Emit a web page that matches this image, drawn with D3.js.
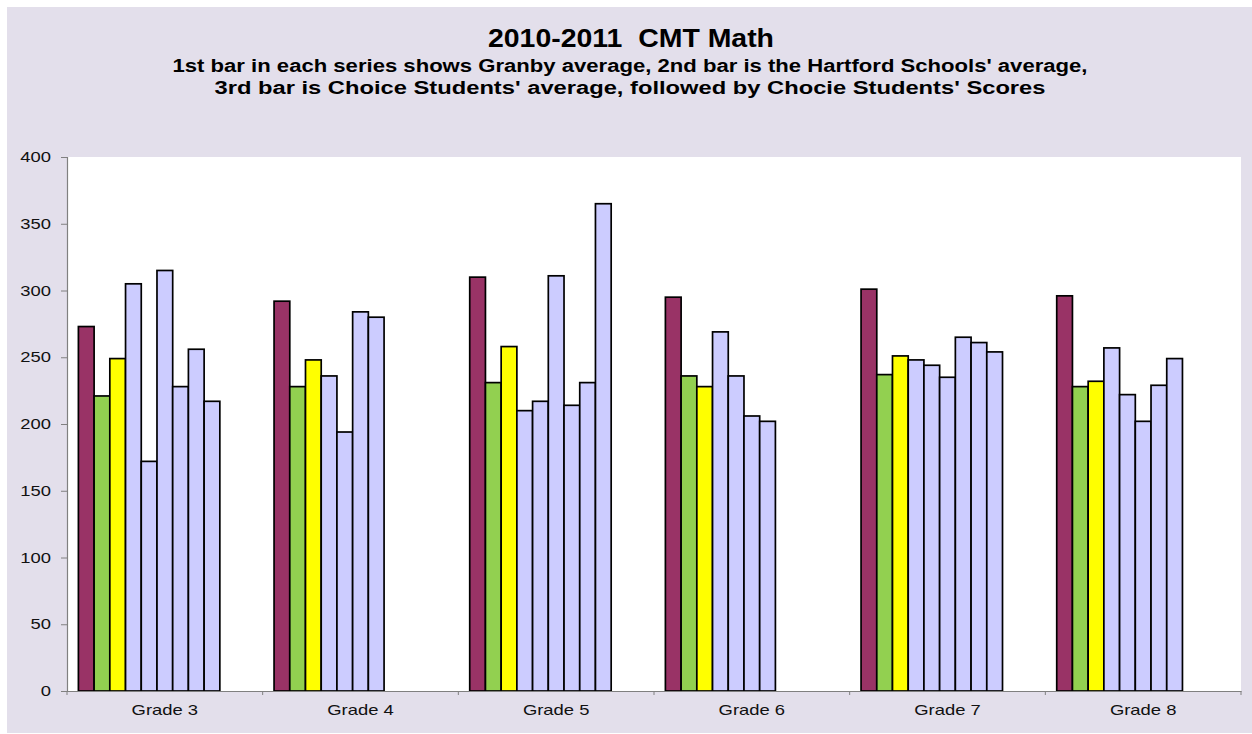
<!DOCTYPE html>
<html><head><meta charset="utf-8">
<script src="https://cdn.jsdelivr.net/npm/d3@7"></script>
<style>body{margin:0;background:#fff;}svg{display:block;}</style>
</head><body>
<svg id="c" width="1252" height="734"></svg>
<script>
const grades = ["Grade 3","Grade 4","Grade 5","Grade 6","Grade 7","Grade 8"];
const seriesCount = 11;
const granby   = [273, 292, 310, 295, 301, 296];
const hartford = [221, 228, 231, 236, 237, 228];
const choiceAvg= [249, 248, 258, 228, 251, 232];
const choiceScores = [
  [305, 172, 315, 228, 256, 217],
  [236, 194, 284, 280],
  [210, 217, 311, 214, 231, 365],
  [269, 236, 206, 202],
  [248, 244, 235, 265, 261, 254],
  [257, 222, 202, 229, 249]
];
const yTicks = [0,50,100,150,200,250,300,350,400];
const titleText = "2010-2011  CMT Math";
const subtitleLines = ["1st bar in each series shows Granby average, 2nd bar is the Hartford Schools' average,",
  "3rd bar is Choice Students' average, followed by Chocie Students' Scores"];

const colors = {granby:"#993366", hartford:"#92D050", choice:"#FFFF00", score:"#CCCCFF"};
const FONT = "Liberation Sans, Arial, sans-serif";
const STRETCH = 1.27;

const svg = d3.select("#c");
svg.append("rect").attr("x",7).attr("y",7).attr("width",1245).attr("height",726).attr("fill","#E3DFEB");

const m = {left:67, right:1241, top:157, bottom:691};
svg.append("rect").attr("x",m.left).attr("y",m.top).attr("width",m.right-m.left).attr("height",m.bottom-m.top).attr("fill","#fff");

const x0 = d3.scaleBand().domain(grades).range([m.left,m.right]).padding(0);
const x1 = d3.scaleBand().domain(d3.range(seriesCount)).range([0,x0.bandwidth()]).paddingInner(0).paddingOuter(0.725);
const y = d3.scaleLinear().domain([0,400]).range([m.bottom,m.top]);

const bars = [];
grades.forEach((g,i)=>{
  bars.push({g, s:0, v:granby[i], c:colors.granby});
  bars.push({g, s:1, v:hartford[i], c:colors.hartford});
  bars.push({g, s:2, v:choiceAvg[i], c:colors.choice});
  choiceScores[i].forEach((v,j)=>bars.push({g, s:3+j, v, c:colors.score}));
});

svg.append("g").selectAll("rect").data(bars).join("rect")
  .attr("x",d=>x0(d.g)+x1(d.s))
  .attr("y",d=>y(d.v))
  .attr("width",x1.bandwidth())
  .attr("height",d=>y(0)-y(d.v))
  .attr("fill",d=>d.c)
  .attr("stroke","#000").attr("stroke-width",1.7);

function stretch(sel){
  sel.each(function(){
    const w = this.getComputedTextLength();
    d3.select(this).attr("textLength", w*STRETCH).attr("lengthAdjust","spacingAndGlyphs");
  });
}

// y axis
const ya = svg.append("g").attr("transform",`translate(${m.left},0)`)
  .call(d3.axisLeft(y).tickValues(yTicks).tickSize(6).tickPadding(10));
ya.select(".domain").attr("stroke","#808080").attr("stroke-width",1.2);
ya.selectAll(".tick line").attr("stroke","#808080");
ya.selectAll("text").attr("font-family",FONT).attr("font-size",14.5).attr("fill","#111").call(stretch);

// x axis
const xa = svg.append("g").attr("transform",`translate(0,${m.bottom})`)
  .call(d3.axisBottom(x0).tickSize(0).tickPadding(14));
xa.select(".domain").attr("stroke","#808080").attr("stroke-width",1.2);
xa.selectAll("text").attr("font-family",FONT).attr("font-size",14.5).attr("fill","#111").call(stretch);
const bounds = grades.map(g=>x0(g)).concat([m.right]);
xa.selectAll(".sep").data(bounds).join("line").attr("class","sep")
  .attr("x1",d=>d).attr("x2",d=>d).attr("y1",0).attr("y2",4).attr("stroke","#808080");

// titles
svg.append("text").attr("x",631).attr("y",47).attr("text-anchor","middle")
  .attr("font-family",FONT).attr("font-weight","bold").attr("font-size",25)
  .attr("fill","#000").style("white-space","pre").text(titleText)
  .attr("textLength",286).attr("lengthAdjust","spacingAndGlyphs");
const subLens = [915, 831];
subtitleLines.forEach((t,i)=>{
  svg.append("text").attr("x",630).attr("y",71.5+i*22).attr("text-anchor","middle")
    .attr("font-family",FONT).attr("font-weight","bold").attr("font-size",18)
    .attr("fill","#000").text(t)
    .attr("textLength",subLens[i]).attr("lengthAdjust","spacingAndGlyphs");
});
</script>
</body></html>
